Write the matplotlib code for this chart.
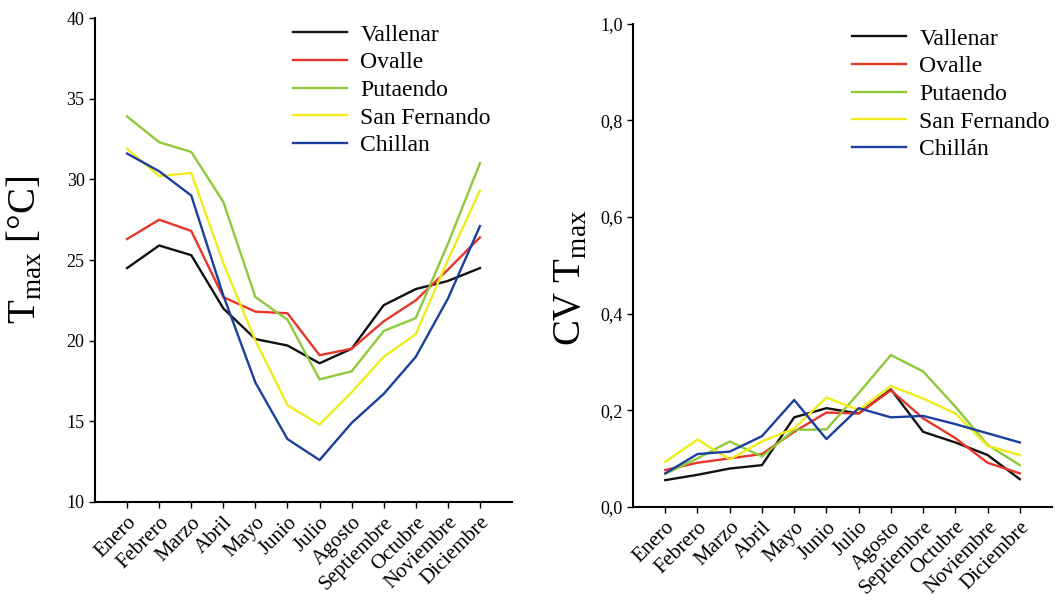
import matplotlib
matplotlib.use("Agg")
import matplotlib.pyplot as plt

plt.rcParams['font.family'] = ['Liberation Serif', 'DejaVu Serif']
plt.rcParams['mathtext.fontset'] = 'custom'
plt.rcParams['mathtext.rm'] = 'Liberation Serif'

meses = ['Enero', 'Febrero', 'Marzo', 'Abril', 'Mayo', 'Junio', 'Julio',
         'Agosto', 'Septiembre', 'Octubre', 'Noviembre', 'Diciembre']

# temperatura maxima media mensual [°C]
tmax_vallenar = [24.5, 25.9, 25.3, 22.0, 20.1, 19.7, 18.6, 19.5, 22.2, 23.2, 23.7, 24.5]
tmax_ovalle = [26.3, 27.5, 26.8, 22.7, 21.8, 21.7, 19.1, 19.5, 21.2, 22.5, 24.4, 26.4]
tmax_putaendo = [33.9, 32.3, 31.7, 28.6, 22.7, 21.3, 17.6, 18.1, 20.6, 21.4, 26.0, 31.0]
tmax_sanfernando = [31.9, 30.2, 30.4, 24.8, 20.0, 16.0, 14.8, 16.8, 19.0, 20.4, 25.0, 29.3]
tmax_chillan = [31.6, 30.5, 29.0, 22.8, 17.4, 13.9, 12.6, 14.9, 16.7, 19.0, 22.6, 27.1]

# coeficiente de variacion de Tmax
cv_vallenar = [0.055, 0.066, 0.079, 0.086, 0.185, 0.204, 0.193, 0.243, 0.155, 0.133, 0.107, 0.057]
cv_ovalle = [0.076, 0.091, 0.100, 0.109, 0.155, 0.195, 0.193, 0.241, 0.183, 0.142, 0.091, 0.069]
cv_putaendo = [0.068, 0.100, 0.135, 0.104, 0.159, 0.160, 0.235, 0.314, 0.280, 0.207, 0.128, 0.086]
cv_sanfernando = [0.093, 0.139, 0.098, 0.135, 0.162, 0.226, 0.200, 0.250, 0.224, 0.193, 0.126, 0.107]
cv_chillan = [0.069, 0.109, 0.114, 0.146, 0.221, 0.140, 0.204, 0.185, 0.188, 0.171, 0.152, 0.133]

colores = ['#111111', '#e8352a', '#8fc93a', '#f0ec1c', '#1c3f9e']

fig = plt.figure(figsize=(10.57, 6.09), dpi=100)
ax1 = fig.add_axes([0.0899, 0.1757, 0.3945, 0.7947])
ax2 = fig.add_axes([0.5989, 0.168, 0.3964, 0.793])

x = list(range(len(meses)))

series1 = [tmax_vallenar, tmax_ovalle, tmax_putaendo, tmax_sanfernando, tmax_chillan]
nombres1 = ['Vallenar', 'Ovalle', 'Putaendo', 'San Fernando', 'Chillan']
for s, c, n in zip(series1, colores, nombres1):
    ax1.plot(x, s, color=c, lw=1.7, label=n)

series2 = [cv_vallenar, cv_ovalle, cv_putaendo, cv_sanfernando, cv_chillan]
nombres2 = ['Vallenar', 'Ovalle', 'Putaendo', 'San Fernando', 'Chillán']
for s, c, n in zip(series2, colores, nombres2):
    ax2.plot(x, s, color=c, lw=1.7, label=n)

for ax in (ax1, ax2):
    ax.set_xlim(-1, 12)
    ax.spines['top'].set_visible(False)
    ax.spines['right'].set_visible(False)
    ax.spines['left'].set_linewidth(1.5)
    ax.spines['bottom'].set_linewidth(1.5)
    ax.set_xticks(x)
    ax.set_xticklabels(meses, rotation=45, ha='right', rotation_mode='anchor', fontsize=15)
    ax.tick_params(direction='out', length=4, width=1)
    ax.tick_params(axis='x', pad=4)

ax1.set_ylim(10, 40)
ax1.set_yticks([10, 15, 20, 25, 30, 35, 40])
ax1.tick_params(axis='y', labelsize=13)
ax1.set_ylabel(r'T$_{\mathregular{max}}$ [°C]', fontsize=28)
ax1.yaxis.set_label_coords(-0.12, 0.52)

ax2.set_ylim(0, 1.0)
ax2.set_yticks([0, 0.2, 0.4, 0.6, 0.8, 1.0])
ax2.set_yticklabels(['0,0', '0,2', '0,4', '0,6', '0,8', '1,0'])
ax2.tick_params(axis='y', labelsize=13)
ax2.set_ylabel(r'CV T$_{\mathregular{max}}$', fontsize=28)
ax2.yaxis.set_label_coords(-0.103, 0.473)

leg_kw = dict(loc='upper left', frameon=False, fontsize=17, handlelength=2.3,
              labelspacing=0.26, handletextpad=0.55, borderpad=0, borderaxespad=0)
ax1.legend(bbox_to_anchor=(293 / 1057, 1 - 24 / 609), bbox_transform=fig.transFigure, **leg_kw)
ax2.legend(bbox_to_anchor=(852 / 1057, 1 - 28 / 609), bbox_transform=fig.transFigure, **leg_kw)

fig.savefig('out.png', dpi=100)
